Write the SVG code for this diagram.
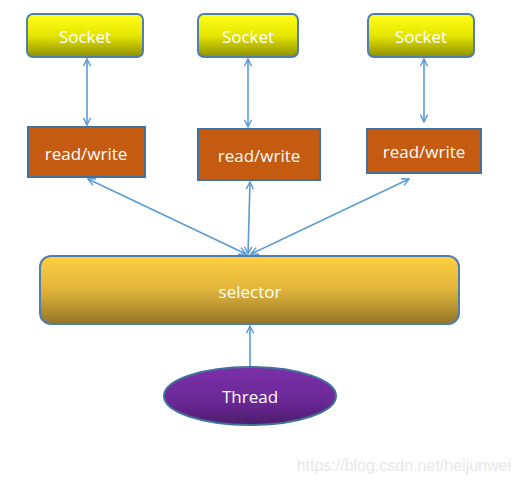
<svg xmlns="http://www.w3.org/2000/svg" width="520" height="485" viewBox="0 0 520 485">
<defs>
<linearGradient id="gSock" x1="0" y1="0" x2="0" y2="1"><stop offset="0" stop-color="#ffff1a"/><stop offset="0.5" stop-color="#e6e600"/><stop offset="1" stop-color="#8f8f00"/></linearGradient>
<linearGradient id="gSel" x1="0" y1="0" x2="0" y2="1"><stop offset="0" stop-color="#ffd040"/><stop offset="0.5" stop-color="#e0b43a"/><stop offset="1" stop-color="#94762a"/></linearGradient>
<linearGradient id="gTh" x1="0" y1="0" x2="0" y2="1"><stop offset="0" stop-color="#7b2fa8"/><stop offset="0.6" stop-color="#6a2896"/><stop offset="1" stop-color="#4a1c6a"/></linearGradient>
<marker id="ah" viewBox="0 0 10 10" refX="9" refY="5" markerWidth="9" markerHeight="9" markerUnits="userSpaceOnUse" orient="auto-start-reverse"><path d="M1,1 L9,5 L1,9" fill="none" stroke="#5b9bd5" stroke-width="1.6"/></marker>
</defs>
<style>
.lbl{font-family:"Open Sans","Liberation Sans",sans-serif;font-size:17px;fill:#ffffff;text-anchor:middle;dominant-baseline:central}
.sock{fill:url(#gSock);stroke:#4f7fae;stroke-width:2}
.rw{fill:#c55a11;stroke:#41719c;stroke-width:2}
.con{stroke:#5b9bd5;stroke-width:1.6;fill:none}
</style>
<rect width="520" height="485" fill="#ffffff"/>
<g id="connectors">
<line class="con" x1="87" y1="59" x2="87" y2="125" marker-start="url(#ah)" marker-end="url(#ah)"/>
<line class="con" x1="248" y1="59" x2="248" y2="127" marker-start="url(#ah)" marker-end="url(#ah)"/>
<line class="con" x1="424" y1="59" x2="424" y2="122" marker-start="url(#ah)" marker-end="url(#ah)"/>
<line class="con" x1="88" y1="179" x2="246" y2="254" marker-start="url(#ah)" marker-end="url(#ah)"/>
<line class="con" x1="250" y1="182" x2="248" y2="254" marker-start="url(#ah)" marker-end="url(#ah)"/>
<line class="con" x1="409" y1="179" x2="251" y2="254" marker-start="url(#ah)" marker-end="url(#ah)"/>
<line class="con" x1="250" y1="366" x2="250" y2="326" marker-end="url(#ah)"/>
</g>
<g id="socket1"><rect class="sock" x="27" y="14" width="116" height="43" rx="6"/><text class="lbl" x="85" y="36">Socket</text></g>
<g id="socket2"><rect class="sock" x="198" y="14" width="100" height="43" rx="6"/><text class="lbl" x="248" y="36">Socket</text></g>
<g id="socket3"><rect class="sock" x="368" y="14" width="106" height="43" rx="6"/><text class="lbl" x="421" y="36">Socket</text></g>
<g id="rw1"><rect class="rw" x="28" y="127" width="117" height="50"/><text class="lbl" x="86" y="153">read/write</text></g>
<g id="rw2"><rect class="rw" x="198" y="129" width="122" height="51"/><text class="lbl" x="259" y="155">read/write</text></g>
<g id="rw3"><rect class="rw" x="367" y="129" width="114" height="44"/><text class="lbl" x="424" y="151">read/write</text></g>
<g id="selector"><rect x="40" y="256" width="419" height="68" rx="11" fill="url(#gSel)" stroke="#4f7fae" stroke-width="2"/><text class="lbl" x="250" y="291">selector</text></g>
<g id="thread"><ellipse cx="250" cy="396" rx="86" ry="29" fill="url(#gTh)" stroke="#41719c" stroke-width="2"/><text class="lbl" x="250" y="396">Thread</text></g>
<text x="511" y="471" font-family="Liberation Sans,Arial,sans-serif" font-size="16" fill="#e8e8e8" text-anchor="end">https://blog.csdn.net/heijunwei</text>
</svg>
